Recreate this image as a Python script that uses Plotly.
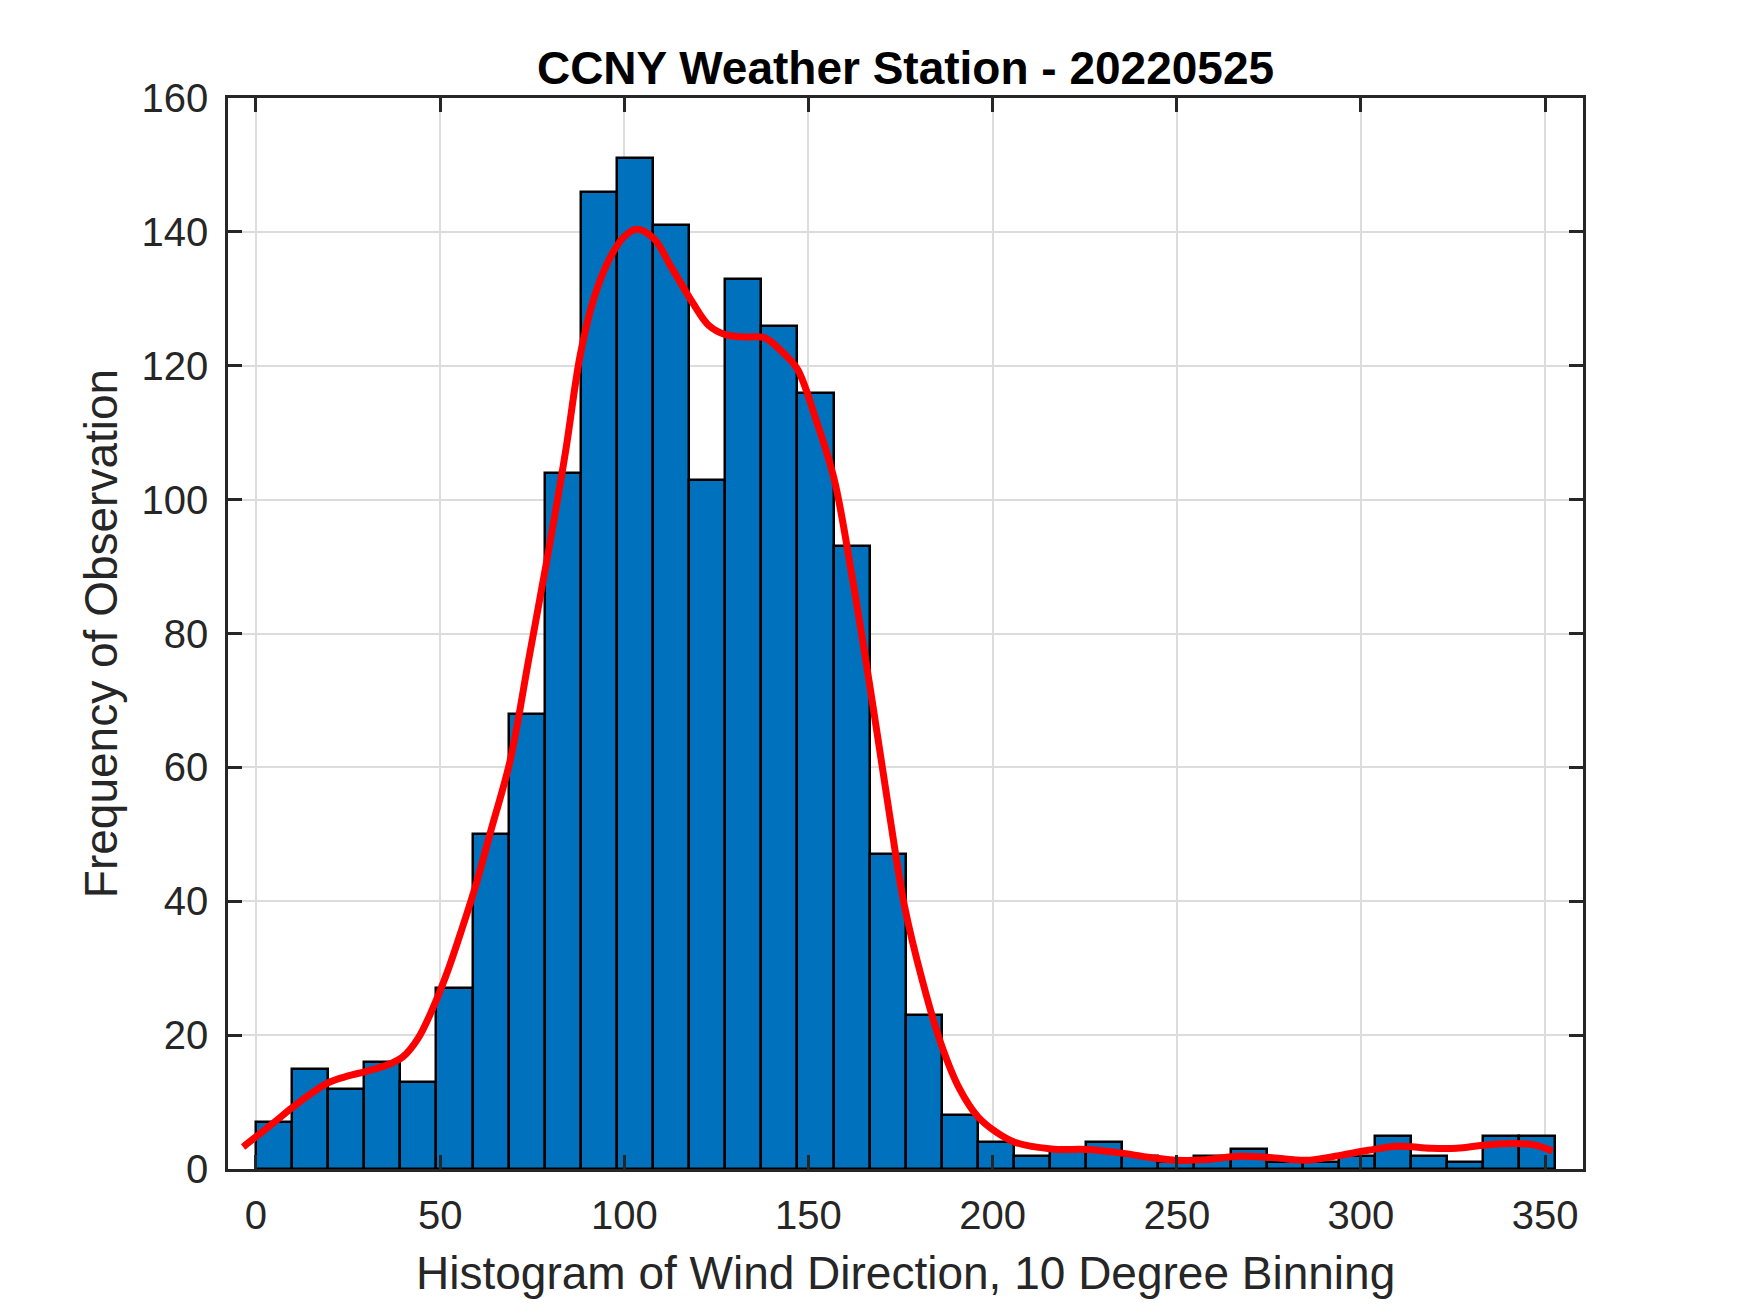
import plotly.graph_objects as go

# ---- data ----
bin_width = 9.8  # degrees per bar (bars start at 0)
counts = [7, 15, 12, 16, 13, 27, 50, 68, 104, 146, 151, 141, 103, 133, 126, 116,
          93, 47, 23, 8, 4, 2, 3, 4, 2, 1, 2, 3, 1, 1, 2, 5, 2, 1, 5, 5]

fit_x = [-3.5, 0, 5, 9.7, 15, 20, 25, 30, 36, 40, 44, 48, 52, 56, 60, 64, 69, 74,
         79, 84, 88, 91.6, 96, 100, 103.4, 108, 113, 118.7, 123, 127.7, 133, 138,
         143, 147, 152, 157, 162, 167, 172, 176, 181, 186, 191, 196, 201, 206, 216,
         226, 236, 243, 250, 258, 267, 276, 285, 294, 302, 310, 319, 326, 334, 342,
         347, 352]
fit_y = [3.3, 4.8, 7.0, 9.1, 11.3, 13.0, 13.9, 14.6, 15.6, 16.8, 19.5, 24, 29.5,
         36, 43, 51, 61, 76, 91, 107, 121.5, 129.8, 136, 139.3, 140.4, 139, 134.5,
         129.3, 126, 124.6, 124.3, 124.2, 122, 119.5, 112, 103, 88, 71, 53, 39.5,
         28, 18.7, 12, 7.8, 5.5, 4.0, 3.0, 2.9, 2.3, 1.7, 1.3, 1.4, 1.9, 1.7, 1.3,
         2.0, 2.8, 3.4, 3.1, 3.1, 3.6, 3.8, 3.6, 2.7]

x_ticks = [0, 50, 100, 150, 200, 250, 300, 350]
y_ticks = [0, 20, 40, 60, 80, 100, 120, 140, 160]

title_text = "CCNY Weather Station - 20220525"
x_label = "Histogram of Wind Direction, 10 Degree Binning"
y_label = "Frequency of Observation"

# ---- figure ----
centers = [(i + 0.5) * bin_width for i in range(len(counts))]

fig = go.Figure()
fig.add_trace(go.Bar(
    x=centers, y=counts, width=bin_width,
    marker=dict(color="#0072BD", line=dict(color="black", width=2.5)),
    showlegend=False,
))
fig.add_trace(go.Scatter(
    x=fit_x, y=fit_y, mode="lines",
    line=dict(color="#FF0000", width=7, shape="spline", smoothing=1.0),
    showlegend=False,
))

FONT = "Liberation Sans, Arial, Helvetica, sans-serif"
axis_common = dict(
    showline=True, linecolor="#262626", linewidth=2.5, mirror="ticks",
    ticks="inside", ticklen=14, tickwidth=2.5, tickcolor="#262626",
    showgrid=True, gridcolor="#DCDCDC", gridwidth=2,
    zeroline=False,
    tickfont=dict(family=FONT, size=40, color="#262626"),
)

W, H = 1742, 1305  # page body has an 8px margin
fig.update_layout(
    width=W, height=H,
    margin=dict(l=220, r=167, t=90, b=144, autoexpand=False),
    paper_bgcolor="white", plot_bgcolor="white",
    bargap=0,
    title=dict(text="<b>" + title_text + "</b>", x=0.5, xref="paper",
               y=1 - 59.5 / H, yref="container", yanchor="middle",
               xanchor="center",
               font=dict(family=FONT, size=46, color="black")),
    xaxis=dict(range=[-7.6, 360.3], tickvals=x_ticks, ticklabelstandoff=9,
               **axis_common),
    yaxis=dict(range=[0, 160], tickvals=y_ticks, ticklabelstandoff=9,
               **axis_common),
    annotations=[
        dict(text=x_label, xref="paper", yref="paper", x=0.5, y=-0.0975,
             xanchor="center", yanchor="middle", showarrow=False,
             font=dict(family=FONT, size=46, color="#262626")),
        dict(text=y_label, xref="paper", yref="paper", x=-0.094, y=0.5,
             xanchor="center", yanchor="middle", showarrow=False, textangle=-90,
             font=dict(family=FONT, size=46, color="#262626")),
    ],
)

fig.write_html("out.html")
